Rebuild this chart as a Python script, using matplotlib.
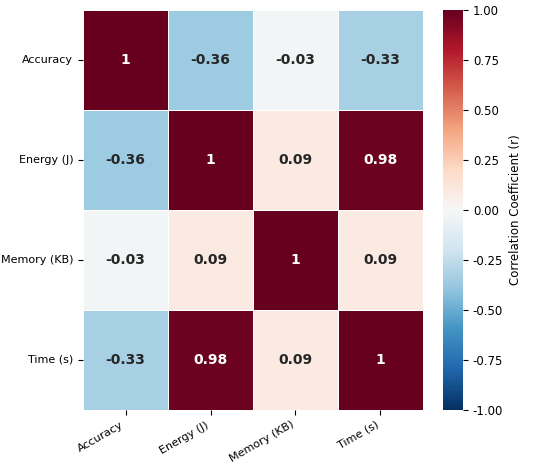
import numpy as np
import matplotlib
matplotlib.use("Agg")
import matplotlib.pyplot as plt
import seaborn as sns

labels = ["Accuracy", "Energy (J)", "Memory (KB)", "Time (s)"]
corr = np.array([
    [1.00, -0.36, -0.03, -0.33],
    [-0.36, 1.00, 0.09, 0.98],
    [-0.03, 0.09, 1.00, 0.09],
    [-0.33, 0.98, 0.09, 1.00],
])

fig = plt.figure(figsize=(5.5, 4.7), dpi=100)
ax = fig.add_axes([0.151, 0.128, 0.618, 0.851])
cax = fig.add_axes([0.805, 0.128, 0.037, 0.851])

sns.heatmap(corr, ax=ax, cbar_ax=cax, cmap="RdBu_r", vmin=-1, vmax=1,
            annot=True, fmt=".2g", annot_kws={"size": 10, "weight": "bold"},
            linewidths=0.6, linecolor="white",
            xticklabels=labels, yticklabels=labels,
            cbar_kws={"ticks": np.arange(-1, 1.01, 0.25)})

cax.yaxis.set_major_formatter(matplotlib.ticker.FormatStrFormatter("%.2f"))
cax.tick_params(labelsize=8.5)
cax.set_ylabel("Correlation Coefficient (r)", fontsize=8.5)
for sp in cax.spines.values():
    sp.set_visible(False)

ax.set_xticklabels(labels, rotation=30, ha="right", fontsize=8)
ax.set_yticklabels(labels, rotation=0, fontsize=8)

fig.savefig("out.png", dpi=100)
